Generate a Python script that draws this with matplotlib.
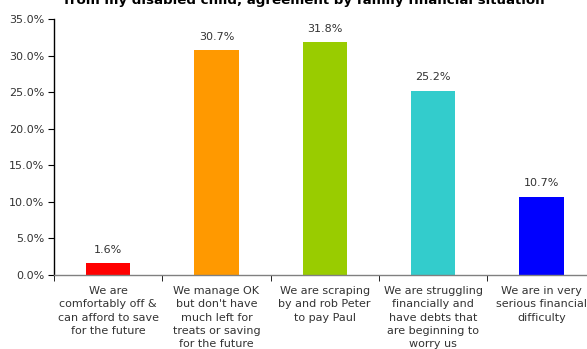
import matplotlib
matplotlib.use("Agg")
import matplotlib.pyplot as plt
from matplotlib.ticker import FuncFormatter, FixedLocator

categories = [
    "We are\ncomfortably off &\ncan afford to save\nfor the future",
    "We manage OK\nbut don't have\nmuch left for\ntreats or saving\nfor the future",
    "We are scraping\nby and rob Peter\nto pay Paul",
    "We are struggling\nfinancially and\nhave debts that\nare beginning to\nworry us",
    "We are in very\nserious financial\ndifficulty",
]
values = [1.6, 30.7, 31.8, 25.2, 10.7]
colors = ["#FF0000", "#FF9900", "#99CC00", "#33CCCC", "#0000FF"]
title = "from my disabled child, agreement by family financial situation"

W, H = 587, 349
fig = plt.figure(figsize=(W / 100, H / 100), dpi=100)
left, right, top, bottom = 54, 595.5, 19, 275
ax = fig.add_axes([left / W, 1 - bottom / H, (right - left) / W, (bottom - top) / H])

txt = "#333333"
x = list(range(len(values)))
ax.bar(x, values, width=0.41, color=colors, zorder=2)
for xi, v in zip(x, values):
    ax.annotate(f"{v:.1f}%", (xi, v), xytext=(0, 6), textcoords="offset points",
                ha="center", va="bottom", fontsize=8, color=txt)

ax.set_xlim(-0.5, 4.5)
ax.set_ylim(0, 35)
ax.yaxis.set_major_locator(FixedLocator([0, 5, 10, 15, 20, 25, 30, 35]))
ax.yaxis.set_major_formatter(FuncFormatter(lambda v, p: f"{v:.1f}%"))

ax.set_xticks(x)
ax.set_xticklabels(categories, fontsize=8, color=txt, linespacing=1.4)
ax.tick_params(axis="x", length=0, pad=8)
ax.set_xticks([i - 0.5 for i in range(6)], minor=True)
ax.tick_params(axis="x", which="minor", length=4, direction="out", color="#000000")
ax.tick_params(axis="y", length=4, direction="out", labelsize=8, labelcolor=txt, pad=3)

for s in ("top", "right"):
    ax.spines[s].set_visible(False)
ax.spines["left"].set_color("#000000")
ax.spines["bottom"].set_color("#808080")
ax.spines["left"].set_linewidth(1)
ax.spines["bottom"].set_linewidth(1)

fig.text(304 / W, 1 - 4 / H, title, ha="center", va="baseline",
         fontsize=9.6, fontweight="bold", color="#000000")

fig.savefig("out.png", dpi=100)
